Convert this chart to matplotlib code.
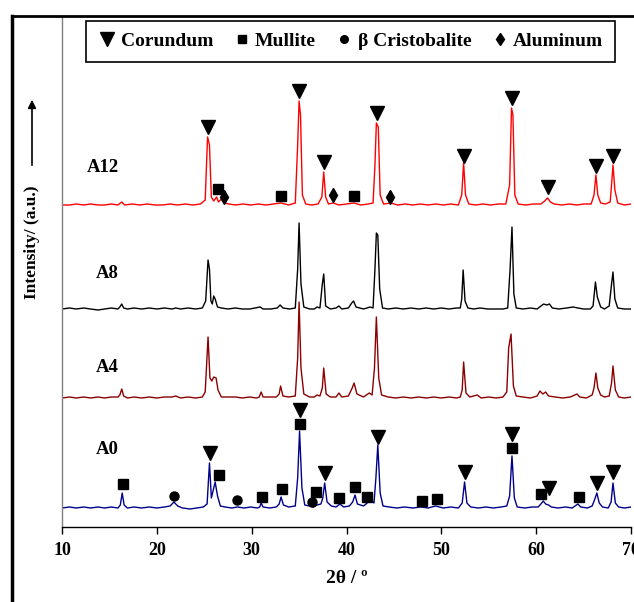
import matplotlib
matplotlib.use("Agg")
import matplotlib.pyplot as plt
from matplotlib.lines import Line2D

# =========================
# XRD patterns (2theta, intensity above own baseline, a.u.)
# =========================
SAMPLES = ["A0", "A4", "A8", "A12"]
OFFSETS = [19, 129, 218, 322]
COLORS = ["#00008B", "#8B0000", "#000000", "#FF0000"]

A0_PATTERN = [
    (10.0, 0), (10.8, 1), (11.5, 0), (12.3, 1), (13.0, 0), (13.8, 1), (14.5, 0), (15.2, 1),
    (15.9, 0), (16.15, 3), (16.35, 15), (16.55, 3), (16.9, 0), (17.6, 1), (18.4, 0), (19.2, 1),
    (20.0, 0), (20.8, 1), (21.4, 2), (21.8, 6), (22.2, 2), (22.7, 0), (23.5, -1), (24.2, 0),
    (24.9, 1), (25.3, 4), (25.55, 45), (25.75, 10), (25.95, 18), (26.15, 26), (26.4, 12), (26.7, 2),
    (27.2, 1), (27.9, 0), (28.5, 1), (29.2, 0), (29.9, 1), (30.6, 0), (30.85, 1), (31.0, 5),
    (31.2, 1), (31.9, 0), (32.6, 1), (32.9, 4), (33.1, 11), (33.35, 3), (33.9, 1), (34.6, 2),
    (34.85, 30), (35.05, 77), (35.3, 20), (35.6, 3), (36.1, 2), (36.5, 1), (36.9, 3), (37.3, 4),
    (37.5, 10), (37.7, 25), (37.95, 6), (38.4, 2), (38.9, 1), (39.3, 4), (39.7, 1), (40.3, 2),
    (40.65, 6), (40.9, 13), (41.15, 4), (41.8, 2), (42.3, 6), (42.6, 8), (42.9, 5), (43.1, 30),
    (43.3, 63), (43.55, 15), (43.85, 2), (44.5, 1), (45.3, 0), (46.1, 1), (47.0, 0), (47.8, 1),
    (48.6, 0), (49.4, 2), (50.2, 0), (51.0, 1), (51.8, 0), (52.2, 5), (52.45, 26), (52.7, 5),
    (53.1, 1), (53.9, 0), (54.7, 1), (55.5, 0), (56.3, 1), (56.9, 2), (57.2, 12), (57.45, 52),
    (57.7, 10), (58.0, 1), (58.8, 0), (59.6, 1), (60.2, 1), (60.5, 4), (60.75, 7), (61.0, 4),
    (61.3, 3), (61.6, 1), (62.3, 0), (63.1, 1), (63.8, 0), (64.4, 4), (64.7, 1), (65.4, 0),
    (65.9, 2), (66.15, 8), (66.4, 15), (66.65, 5), (67.0, 1), (67.6, 0), (67.9, 6), (68.1, 25),
    (68.35, 5), (68.7, 1), (69.3, 0), (70.0, 1),
]

A4_PATTERN = [
    (10.0, 0), (10.8, 1), (11.5, 0), (12.3, 1), (13.0, 0), (13.8, 1), (14.5, 0), (15.2, 1),
    (15.9, 1), (16.1, 3), (16.3, 9), (16.5, 2), (16.9, 0), (17.6, 1), (18.4, 0), (19.2, 1),
    (20.0, 0), (20.8, 1), (21.6, 1), (22.0, 2), (22.5, 0), (23.3, 1), (24.1, 0), (24.8, 1),
    (25.1, 6), (25.4, 61), (25.6, 20), (25.8, 17), (26.0, 21), (26.25, 20), (26.45, 8), (26.8, 1),
    (27.5, 1), (28.3, 1), (29.0, 0), (29.8, 1), (30.5, 0), (30.8, 1), (31.0, 6), (31.2, 1),
    (31.9, 1), (32.6, 1), (32.9, 4), (33.05, 12), (33.3, 2), (33.9, 1), (34.6, 2), (34.85, 40),
    (35.0, 96), (35.2, 30), (35.5, 4), (36.1, 1), (36.6, 1), (36.9, 3), (37.2, 2), (37.45, 10),
    (37.6, 30), (37.85, 4), (38.3, 1), (38.9, 1), (39.2, 5), (39.5, 1), (40.2, 2), (40.6, 10),
    (40.8, 15), (41.1, 4), (41.8, 1), (42.4, 5), (42.7, 3), (42.95, 30), (43.15, 81), (43.4, 20),
    (43.7, 3), (44.4, 1), (45.2, 0), (46.0, 1), (46.8, 0), (47.6, 1), (48.4, 0), (49.2, 1),
    (50.0, 0), (50.8, 1), (51.6, 0), (52.0, 1), (52.2, 8), (52.35, 36), (52.6, 5), (53.0, 1),
    (53.8, 3), (54.2, 0), (55.0, 1), (55.8, 0), (56.5, 1), (56.9, 6), (57.1, 50), (57.35, 64),
    (57.6, 12), (57.9, 2), (58.6, 1), (59.4, 0), (60.1, 2), (60.4, 7), (60.7, 4), (61.0, 6),
    (61.3, 2), (62.0, 1), (62.8, 0), (63.6, 1), (64.3, 4), (64.6, 1), (65.3, 0), (65.9, 3),
    (66.1, 10), (66.3, 25), (66.5, 10), (66.8, 3), (67.2, 1), (67.7, 2), (67.95, 15), (68.1, 32),
    (68.35, 8), (68.7, 1), (69.3, 0), (70.0, 1),
]

A8_PATTERN = [
    (10.0, 0), (10.8, 1), (11.5, 0), (12.3, 1), (13.0, 0), (13.8, -1), (14.5, 0), (15.2, 1),
    (15.9, 0), (16.1, 2), (16.3, 5), (16.5, 1), (16.9, 0), (17.6, 1), (18.4, 0), (19.2, 1),
    (20.0, 0), (20.8, 1), (21.6, 0), (22.0, 1), (22.5, 0), (23.3, 1), (24.1, 0), (24.8, 1),
    (25.15, 8), (25.4, 49), (25.55, 40), (25.7, 8), (25.85, 5), (26.0, 13), (26.15, 10), (26.4, 2),
    (26.8, 1), (27.5, 0), (28.3, 1), (29.0, 0), (29.8, 0), (30.9, 2), (31.2, 0), (32.0, 0),
    (32.7, 1), (33.0, 4), (33.3, 1), (34.0, 0), (34.6, 1), (34.85, 40), (35.0, 86), (35.2, 25),
    (35.5, 2), (36.1, 0), (36.6, 0), (36.9, 2), (37.2, 1), (37.45, 25), (37.6, 35), (37.8, 3),
    (38.3, 0), (38.9, 1), (39.2, 3), (39.5, 0), (40.2, 1), (40.55, 6), (40.75, 8), (41.0, 2),
    (41.8, 0), (42.5, 2), (42.8, 1), (43.0, 40), (43.15, 76), (43.3, 74), (43.5, 20), (43.8, 1),
    (44.4, 0), (45.2, 1), (46.0, 0), (46.8, 1), (47.6, 0), (48.4, 1), (49.2, 0), (50.0, 1),
    (50.8, 0), (51.6, 1), (52.0, 1), (52.15, 10), (52.3, 39), (52.5, 8), (52.8, 1), (53.4, 0),
    (54.1, 1), (54.9, 0), (55.7, 0), (56.5, 0), (57.0, 1), (57.25, 40), (57.45, 82), (57.65, 15),
    (57.9, 1), (58.6, 0), (59.4, 1), (60.1, 0), (60.5, 3), (60.8, 5), (61.1, 4), (61.4, 5),
    (61.7, 1), (62.4, 0), (63.2, 1), (63.9, 2), (64.4, 1), (65.0, 0), (65.7, 0), (66.0, 3),
    (66.25, 27), (66.45, 12), (66.8, 2), (67.2, 0), (67.7, 3), (67.95, 25), (68.1, 37), (68.3, 10),
    (68.6, 1), (69.3, 0), (70.0, 0),
]

A12_PATTERN = [
    (10.0, 0), (10.8, 0), (11.5, 1), (12.3, 0), (13.0, 1), (13.8, 0), (14.5, 0), (15.2, 1),
    (15.9, 0), (16.3, 3), (16.6, 0), (17.4, 1), (18.2, 0), (19.0, 1), (19.8, 0), (20.6, 0),
    (21.4, 1), (22.2, 0), (23.0, 1), (23.8, 0), (24.6, 1), (25.1, 5), (25.35, 68), (25.55, 60),
    (25.75, 8), (26.0, 4), (26.3, 8), (26.5, 3), (26.8, 6), (27.1, 2), (27.6, 1), (28.3, 0),
    (29.1, 1), (29.9, 0), (30.7, 1), (31.5, 0), (32.3, 1), (33.1, 2), (33.9, 0), (34.6, 2),
    (34.85, 60), (35.0, 104), (35.15, 90), (35.35, 10), (35.7, 1), (36.3, 0), (37.0, 1), (37.4, 8),
    (37.6, 33), (37.8, 8), (38.1, 1), (38.6, 2), (39.2, 0), (40.0, 1), (40.8, 2), (41.5, 0),
    (42.3, 1), (42.8, 2), (43.0, 40), (43.15, 82), (43.35, 78), (43.55, 10), (43.9, 1), (44.7, 2),
    (45.4, 0), (46.2, 1), (47.0, 0), (47.8, 1), (48.6, 0), (49.4, 1), (50.2, 0), (51.0, 1),
    (51.8, 0), (52.15, 10), (52.35, 42), (52.55, 10), (52.9, 1), (53.6, 0), (54.4, 1), (55.2, 0),
    (56.0, 1), (56.8, 1), (57.2, 20), (57.4, 97), (57.55, 90), (57.75, 10), (58.1, 1), (58.9, 0),
    (59.7, 1), (60.5, 1), (60.9, 4), (61.2, 7), (61.5, 3), (61.9, 1), (62.7, 0), (63.5, 1),
    (64.3, 0), (65.0, 1), (65.8, 1), (66.1, 10), (66.3, 30), (66.5, 10), (66.8, 2), (67.3, 1),
    (67.8, 3), (67.95, 20), (68.1, 40), (68.3, 15), (68.6, 2), (69.3, 0), (70.0, 1),
]

PATTERNS = [A0_PATTERN, A4_PATTERN, A8_PATTERN, A12_PATTERN]

# phase markers (2theta, absolute height on the stacked axis)
A0_CORUNDUM = [(25.6, 74), (35.1, 117), (37.7, 54), (43.3, 90), (52.5, 55),
               (57.5, 93), (61.4, 39), (66.4, 44), (68.1, 55)]
A0_MULLITE = [(16.4, 43), (26.6, 52), (31.1, 30), (33.2, 38), (35.1, 103), (36.8, 35),
              (39.2, 29), (40.9, 40), (42.2, 30), (48.0, 26), (49.5, 28), (57.5, 79),
              (60.5, 33), (64.5, 30)]
A0_CRISTOBALITE = [(21.8, 31), (28.5, 27), (36.4, 25)]

A12_CORUNDUM = [(25.4, 400), (35.0, 436), (37.6, 365), (43.2, 414), (52.4, 371),
                (57.5, 429), (61.2, 340), (66.3, 361), (68.1, 371)]
A12_MULLITE = [(26.4, 338), (33.1, 331), (40.8, 331)]
A12_ALUMINUM = [(27.1, 330), (38.6, 332), (44.6, 330)]

PHASES = ["Corundum", "Mullite", "\u03b2 Cristobalite", "Aluminum"]
X_TICKS = [10, 20, 30, 40, 50, 60, 70]

plt.rcParams["font.family"] = ["Liberation Serif", "DejaVu Serif"]
plt.rcParams["font.weight"] = "bold"

fig = plt.figure(figsize=(6.34, 6.02), dpi=100)
ax = fig.add_axes([62 / 634, 1 - 527 / 602, (631 - 62) / 634, (527 - 16) / 602])

for name, pat, off, col in zip(SAMPLES, PATTERNS, OFFSETS, COLORS):
    tt = [p[0] for p in pat]
    yy = [p[1] + off for p in pat]
    ax.plot(tt, yy, color=col, lw=1.0)

label_y = {"A0": 77, "A4": 160, "A8": 254, "A12": 359}
for name in SAMPLES:
    ax.text(16.0, label_y[name], name, ha="right", va="center", fontsize=13.5, fontweight="bold")

mk = {"Corundum": dict(marker="v", ms=10.5),
      "Mullite": dict(marker="s", ms=7),
      "\u03b2 Cristobalite": dict(marker="o", ms=6.5),
      "Aluminum": dict(marker="d", ms=7.5)}
# the key uses slightly smaller symbols than the plot
mk_legend = {"Corundum": dict(marker="v", ms=9.5),
             "Mullite": dict(marker="s", ms=5.5),
             "\u03b2 Cristobalite": dict(marker="o", ms=5.5),
             "Aluminum": dict(marker="d", ms=6.5)}

def put(points, phase):
    ax.plot([p[0] for p in points], [p[1] for p in points], ls="none",
            color="black", **mk[phase])

put(A0_CORUNDUM, "Corundum")
put(A0_MULLITE, "Mullite")
put(A0_CRISTOBALITE, "\u03b2 Cristobalite")
put(A12_CORUNDUM, "Corundum")
put(A12_MULLITE, "Mullite")
put(A12_ALUMINUM, "Aluminum")

ax.set_xlim(10, 70)
ax.set_ylim(0, 511)
ax.set_xticks(X_TICKS)
ax.set_xticklabels([str(t) for t in X_TICKS], fontsize=13, fontweight="bold")
ax.set_yticks([])
ax.tick_params(axis="x", direction="out", length=5, width=1, pad=6)
ax.spines["top"].set_visible(False)
ax.spines["right"].set_visible(False)
ax.spines["left"].set_color("#808080")
ax.spines["left"].set_linewidth(1)
ax.spines["bottom"].set_linewidth(1)
ax.set_xlabel("2\u03b8 / \u00ba", fontsize=14, fontweight="bold", labelpad=8)

handles = [Line2D([], [], ls="none", color="black", **mk_legend[p]) for p in PHASES]
leg = ax.legend(handles, PHASES, ncol=4, loc="upper left", mode="expand",
                bbox_to_anchor=(86 / 634, 1 - 62 / 602, (615 - 86) / 634, 41 / 602),
                bbox_transform=fig.transFigure,
                frameon=True, fancybox=False, edgecolor="black", framealpha=1,
                prop={"size": 14, "weight": "bold"}, handlelength=1.0,
                handletextpad=0.2, columnspacing=0.7, borderpad=0.6, borderaxespad=0)
leg.get_frame().set_linewidth(1.2)

fig.text(32 / 634, 1 - 242 / 602, "Intensity/ (a.u.)", rotation=90, ha="center",
         va="center", fontsize=12.5, fontweight="bold")
ax.annotate("", xy=(32 / 634, 1 - 97 / 602), xytext=(32 / 634, 1 - 168 / 602),
            xycoords="figure fraction", textcoords="figure fraction",
            arrowprops=dict(arrowstyle="-|>", color="black", lw=1.2, mutation_scale=12))

# outer frame of the original picture
fig.add_artist(Line2D([12 / 634, 12 / 634], [0, 1 - 16 / 602], color="black", lw=2.5,
                      transform=fig.transFigure))
fig.add_artist(Line2D([12 / 634, 1], [1 - 16 / 602, 1 - 16 / 602], color="black", lw=2,
                      transform=fig.transFigure))

fig.savefig("out.png", dpi=100)
